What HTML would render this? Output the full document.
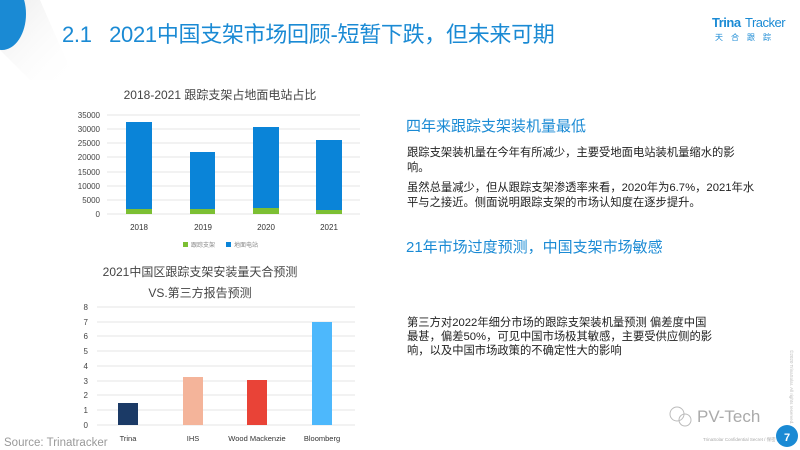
<!DOCTYPE html>
<html><head><meta charset="utf-8"><style>
body{margin:0;width:800px;height:450px;overflow:hidden;background:#fff;position:relative;font-family:"Liberation Sans","Noto Sans CJK SC",sans-serif}
.a{position:absolute;white-space:nowrap}
.p{font-size:11.3px;color:#222;line-height:15px}
.h{font-size:15px;color:#1a8ad4}
svg text{font-family:"Liberation Sans","Noto Sans CJK SC",sans-serif}
</style></head><body>
<svg class="a" style="left:0;top:0" width="800" height="450">
<defs><linearGradient id="g" x1="0" y1="0" x2="1" y2="1"><stop offset="0" stop-color="#e4e4e4"/><stop offset="1" stop-color="#fff" stop-opacity="0"/></linearGradient></defs>
<polygon points="0,30 25,0 40,0 75,80 30,80 0,50" fill="url(#g)" opacity="0.7"/>
<ellipse cx="2" cy="14" rx="24" ry="36" fill="#1a8ad4"/>
<!-- chart1 -->
<text x="220" y="99" font-size="12" fill="#444" text-anchor="middle">2018-2021 跟踪支架占地面电站占比</text>
<g stroke="#e6e6e6" stroke-width="1">
<line x1="107" y1="115" x2="360" y2="115"/><line x1="107" y1="129" x2="360" y2="129"/><line x1="107" y1="143" x2="360" y2="143"/><line x1="107" y1="157" x2="360" y2="157"/><line x1="107" y1="172" x2="360" y2="172"/><line x1="107" y1="186" x2="360" y2="186"/><line x1="107" y1="200" x2="360" y2="200"/><line x1="107" y1="214" x2="360" y2="214"/></g>
<g font-size="8" fill="#444" text-anchor="end">
<text x="100" y="118">35000</text><text x="100" y="132">30000</text><text x="100" y="146">25000</text><text x="100" y="160">20000</text><text x="100" y="175">15000</text><text x="100" y="189">10000</text><text x="100" y="203">5000</text><text x="100" y="217">0</text></g>
<g fill="#0a84d8"><rect x="126" y="122" width="26" height="92"/><rect x="190" y="152" width="25" height="62"/><rect x="253" y="127" width="26" height="87"/><rect x="316" y="140" width="26" height="74"/></g>
<g fill="#7cbf33"><rect x="126" y="209" width="26" height="5"/><rect x="190" y="209" width="25" height="5"/><rect x="253" y="208" width="26" height="6"/><rect x="316" y="210" width="26" height="4"/></g>
<g font-size="8" fill="#333" text-anchor="middle"><text x="139" y="230">2018</text><text x="203" y="230">2019</text><text x="266" y="230">2020</text><text x="329" y="230">2021</text></g>
<rect x="183" y="242" width="5" height="5" fill="#7cbf33"/><text x="191" y="247" font-size="6" fill="#888">跟踪支架</text>
<rect x="226" y="242" width="5" height="5" fill="#0a84d8"/><text x="234" y="247" font-size="6" fill="#888">地面电站</text>
<!-- chart2 -->
<text x="200" y="276" font-size="12" fill="#444" text-anchor="middle">2021中国区跟踪支架安装量天合预测</text>
<text x="200" y="297" font-size="12" fill="#444" text-anchor="middle">VS.第三方报告预测</text>
<g stroke="#e6e6e6"><line x1="97" y1="307" x2="355" y2="307"/><line x1="97" y1="322" x2="355" y2="322"/><line x1="97" y1="336" x2="355" y2="336"/><line x1="97" y1="351" x2="355" y2="351"/><line x1="97" y1="366" x2="355" y2="366"/><line x1="97" y1="381" x2="355" y2="381"/><line x1="97" y1="395" x2="355" y2="395"/><line x1="97" y1="410" x2="355" y2="410"/><line x1="97" y1="425" x2="355" y2="425"/></g>
<g font-size="8" fill="#444" text-anchor="end"><text x="88" y="310">8</text><text x="88" y="325">7</text><text x="88" y="339">6</text><text x="88" y="354">5</text><text x="88" y="369">4</text><text x="88" y="384">3</text><text x="88" y="398">2</text><text x="88" y="413">1</text><text x="88" y="428">0</text></g>
<rect x="118" y="403" width="20" height="22" fill="#1b3a66"/>
<rect x="183" y="377" width="20" height="48" fill="#f4b49a"/>
<rect x="247" y="380" width="20" height="45" fill="#e94337"/>
<rect x="312" y="322" width="20" height="103" fill="#4db8fc"/>
<g font-size="7.5" fill="#333" text-anchor="middle"><text x="128" y="441">Trina</text><text x="193" y="441">IHS</text><text x="257" y="441">Wood Mackenzie</text><text x="322" y="441">Bloomberg</text></g>
<text x="4" y="446" font-size="11.5" fill="#999">Source: Trinatracker</text>
<!-- footer -->
<circle cx="787" cy="436" r="11" fill="#1a8ad4"/><text x="787" y="441" font-size="11" font-weight="bold" fill="#fff" text-anchor="middle">7</text>
<text x="703" y="441" font-size="4.5" fill="#aaa">TrinaSolar Confidential Secret / 保密</text>
<text x="697" y="422" font-size="17" fill="#aaa">PV-Tech</text>
<circle cx="677" cy="414" r="7" fill="none" stroke="#bbb"/><circle cx="685" cy="420" r="6" fill="none" stroke="#bbb"/>
<text transform="translate(790,350) rotate(90)" font-size="4.5" fill="#bbb">©2020 TrinaSolar. All rights reserved.</text>
<!-- logo -->
<text x="712" y="27" font-size="13" font-weight="bold" fill="#1a8ad4" letter-spacing="-0.5">Trina</text><text x="745" y="27" font-size="13" fill="#1a8ad4" letter-spacing="-0.5">Tracker</text>
<text x="715" y="40" font-size="8" fill="#1a8ad4" letter-spacing="8">天合跟踪</text>
</svg>
<div class="a" style="left:62px;top:17px;font-size:22px;color:#1a8ad4;letter-spacing:-0.3px">2.1&nbsp;&nbsp;&nbsp;2021中国支架市场回顾-短暂下跌，但未来可期</div>
<div class="a h" style="left:406px;top:115px">四年来跟踪支架装机量最低</div>
<div class="a p" style="left:407px;top:146px">跟踪支架装机量在今年有所减少，主要受地面电站装机量缩水的影<br>响。</div>
<div class="a p" style="left:407px;top:181px">虽然总量减少，但从跟踪支架渗透率来看，2020年为6.7%，2021年水<br>平与之接近。侧面说明跟踪支架的市场认知度在逐步提升。</div>
<div class="a h" style="left:406px;top:236px">21年市场过度预测，中国支架市场敏感</div>
<div class="a p" style="left:407px;top:316px;line-height:14px">第三方对2022年细分市场的跟踪支架装机量预测 偏差度中国<br>最甚，偏差50%，可见中国市场极其敏感，主要受供应侧的影<br>响，以及中国市场政策的不确定性大的影响</div>
</body></html>
